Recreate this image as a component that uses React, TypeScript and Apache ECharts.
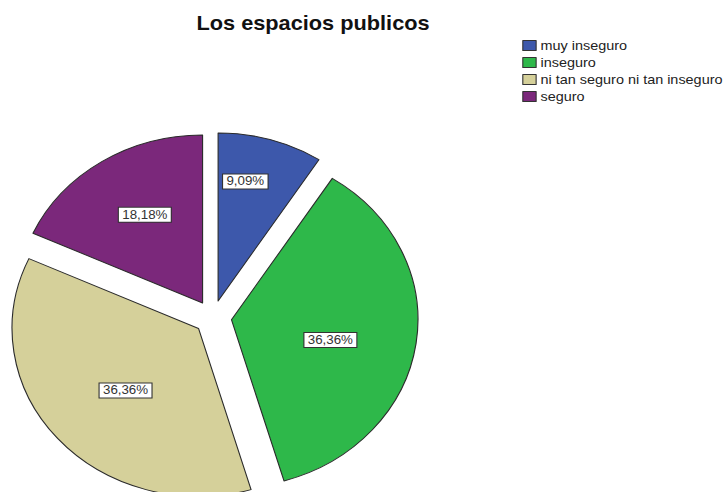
import React, { useEffect, useRef } from "react";
import * as echarts from "echarts";

const titleText = "Los espacios publicos";
const categories = ["muy inseguro", "inseguro", "ni tan seguro ni tan inseguro", "seguro"];
const counts = [1, 4, 4, 2];
const colors = ["#3d58ab", "#2eb84a", "#d5d09a", "#7b287b"];
// per-slice label nudges (style only), in px
const labelNudge = [[0, -36], [3, 8], [0, 5], [-5, -15]];

const STRETCH = 1.11;
const W = 656;
const H = 492;

export default function App() {
  const ref = useRef<HTMLDivElement>(null);
  useEffect(() => {
    if (!ref.current) return;
    const chart = echarts.init(ref.current, undefined, { renderer: "svg" });
    const total = counts.reduce((a, b) => a + b, 0);
    chart.setOption({
      animation: false,
      backgroundColor: "#ffffff",
      title: {
        text: titleText,
        left: 172,
        top: 8,
        textStyle: { fontFamily: "Liberation Sans, Arial, sans-serif", fontSize: 19.6, fontWeight: "bold", color: "#111" },
      },
      legend: {
        orient: "vertical",
        left: 465.5,
        top: 33,
        itemWidth: 12,
        itemHeight: 10,
        itemGap: 2,
        icon: "rect",
        selectedMode: false,
        data: categories,
        itemStyle: { borderColor: "#333", borderWidth: 1 },
        textStyle: { fontFamily: "Liberation Sans, Arial, sans-serif", fontSize: 13, color: "#222", lineHeight: 15, padding: [0, 0, 0, -1] },
      },
      series: [
        {
          type: "pie",
          center: [191.7, 317.3],
          radius: [0, 168],
          startAngle: 90,
          clockwise: true,
          selectedMode: "multiple",
          selectedOffset: 17,
          avoidLabelOverlap: false,
          emphasis: { disabled: true },
          itemStyle: { borderColor: "#2a2a2a", borderWidth: 1 },
          label: {
            show: true,
            position: "inside",
            fontFamily: "Liberation Sans, Arial, sans-serif",
            fontSize: 12,
            color: "#333",
            backgroundColor: "#ffffff",
            borderColor: "#333",
            borderWidth: 1,
            padding: [1, 3, 1, 3],
            formatter: (p: any) => ((p.value / total) * 100).toFixed(2).replace(".", ",") + "%",
          },
          labelLayout: (p: any) => ({ dx: labelNudge[p.dataIndex][0], dy: labelNudge[p.dataIndex][1] }),
          labelLine: { show: false },
          data: categories.map((name, i) => ({
            name,
            value: counts[i],
            selected: true,
            itemStyle: { color: colors[i] },
          })),
        },
      ],
    });
    return () => chart.dispose();
  }, []);
  return (
    <div style={{ position: "absolute", left: 0, top: 0, width: 728, height: H, overflow: "hidden", background: "#fff" }}>
      <div
        ref={ref}
        style={{ width: W, height: H, transform: `scaleX(${STRETCH})`, transformOrigin: "0 0" }}
      />
    </div>
  );
}
